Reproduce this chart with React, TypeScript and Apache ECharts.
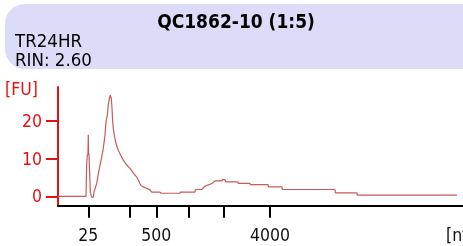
import React, { useEffect, useRef } from "react";
import * as echarts from "echarts";

// Electropherogram: migration time (s) vs fluorescence (FU)
const timeSec = [
  19.0, 22.46, 22.54, 22.62, 22.7, 22.74, 22.78, 22.83, 22.99, 23.07, 23.2, 23.36, 23.44, 23.78,
  23.98, 24.19, 24.4, 24.59, 24.8, 24.93, 25.09, 25.21, 25.33, 25.46, 25.58, 25.67, 25.75, 25.83,
  25.95, 26.16, 26.44, 26.74, 27.06, 27.48, 27.89, 28.3, 28.72, 28.91, 29.25, 29.74, 30.36, 30.57,
  31.59, 31.72, 34.06, 34.1, 35.91, 35.95, 36.74, 37.15, 38.01, 38.38, 39.25, 39.3, 39.62, 39.74,
  41.22, 41.26, 42.7, 42.74, 44.93, 44.97, 46.65, 46.69, 53.2, 53.24, 55.91, 55.95, 68.26,
];
const fluorescence = [
  0, 0, 8.7, 10.9, 11.2, 16.3, 11.5, 10.9, 1.1, 0.3, -0.3, -0.2, 1.1, 3.4,
  6.0, 8.3, 10.4, 12.7, 16.2, 19.8, 21.6, 24.2, 25.9, 26.8, 25.9, 23.3, 19.8, 18.0,
  16.2, 14.0, 12.2, 10.9, 9.6, 8.3, 7.4, 6.2, 5.1, 4.3, 2.8, 2.3, 1.7, 1.1,
  1.1, 0.8, 0.8, 1.1, 1.1, 1.8, 1.8, 2.7, 3.4, 4.1, 4.1, 4.4, 4.4, 3.8,
  3.8, 3.4, 3.4, 3.1, 3.1, 2.5, 2.5, 1.8, 1.8, 0.9, 0.9, 0.3, 0.3,
];

// Ladder (nt) and their migration times
const ladderNt = [25, 200, 500, 1000, 2000, 4000];
const ladderTime = [22.74, 27.89, 31.14, 35.09, 39.41, 45.17];
const labeledNt = [25, 500, 4000];
const yTicks = [0, 10, 20];

const titleText = "QC1862-10 (1:5)";
const sampleName = "TR24HR";
const rinText = "RIN: 2.60";
const yUnit = "[FU]";
const xUnit = "[nt]";

const FONT = '"DejaVu Sans Condensed", "DejaVu Sans", sans-serif';

export default function App() {
  const ref = useRef<HTMLDivElement>(null);

  useEffect(() => {
    if (!ref.current) return;
    const chart = echarts.init(ref.current, null, { renderer: "svg" });
    const data = timeSec.map((t, i) => [t, fluorescence[i]]);
    const labeledTimes = labeledNt.map((n) => ladderTime[ladderNt.indexOf(n)]);

    chart.setOption({
      animation: false,
      textStyle: { fontFamily: FONT },
      grid: { left: 58, right: 0, top: 87, bottom: 40.3, containLabel: false },
      xAxis: {
        type: "value",
        min: 19,
        max: 69,
        splitLine: { show: false },
        axisLine: { onZero: false, lineStyle: { color: "#000", width: 2 } },
        axisTick: {
          show: true,
          customValues: ladderTime,
          length: 12,
          lineStyle: { color: "#000", width: 2 },
        },
        axisLabel: {
          customValues: labeledTimes,
          margin: 20,
          color: "#111",
          fontSize: 17.5,
          fontFamily: FONT,
          formatter: (v: number) => {
            let best = 0;
            for (let i = 1; i < ladderTime.length; i++) {
              if (Math.abs(ladderTime[i] - v) < Math.abs(ladderTime[best] - v)) best = i;
            }
            return String(ladderNt[best]);
          },
        },
      },
      yAxis: {
        type: "value",
        min: -2.5,
        max: 29,
        splitLine: { show: false },
        axisLine: { show: true, onZero: false, lineStyle: { color: "#e81010", width: 2 } },
        axisTick: {
          show: true,
          customValues: yTicks,
          length: 12,
          lineStyle: { color: "#e81010", width: 2 },
        },
        axisLabel: {
          customValues: yTicks,
          margin: 16,
          color: "#e81010",
          fontSize: 17.5,
          fontFamily: FONT,
        },
      },
      graphic: [
        {
          type: "rect",
          z: -1,
          shape: { x: 5, y: 4, width: 500, height: 65, r: 20 },
          style: { fill: "#dcdcf9" },
        },
        {
          type: "text",
          x: 236,
          y: 21,
          style: {
            text: titleText,
            fontFamily: FONT,
            fontSize: 19,
            fontWeight: "bold",
            fill: "#000",
            align: "center",
            verticalAlign: "middle",
          },
        },
        {
          type: "text",
          x: 15,
          y: 40,
          style: { text: sampleName, fontFamily: FONT, fontSize: 18.5, fill: "#000", verticalAlign: "middle" },
        },
        {
          type: "text",
          x: 15,
          y: 59,
          style: { text: rinText, fontFamily: FONT, fontSize: 18.5, fill: "#000", verticalAlign: "middle" },
        },
        {
          type: "text",
          x: 5,
          y: 89,
          style: { text: yUnit, fontFamily: FONT, fontSize: 17.5, fill: "#e81010", verticalAlign: "middle" },
        },
        {
          type: "text",
          x: 446,
          y: 235,
          style: { text: xUnit, fontFamily: FONT, fontSize: 17.5, fill: "#111", verticalAlign: "middle" },
        },
      ],
      series: [
        {
          type: "line",
          data,
          showSymbol: false,
          lineStyle: { color: "#c85a5a", width: 1.2 },
          clip: true,
        },
      ],
    });

    return () => chart.dispose();
  }, []);

  return (
    <div
      ref={ref}
      style={{ position: "fixed", left: 0, top: 0, width: 463, height: 246 }}
    />
  );
}
